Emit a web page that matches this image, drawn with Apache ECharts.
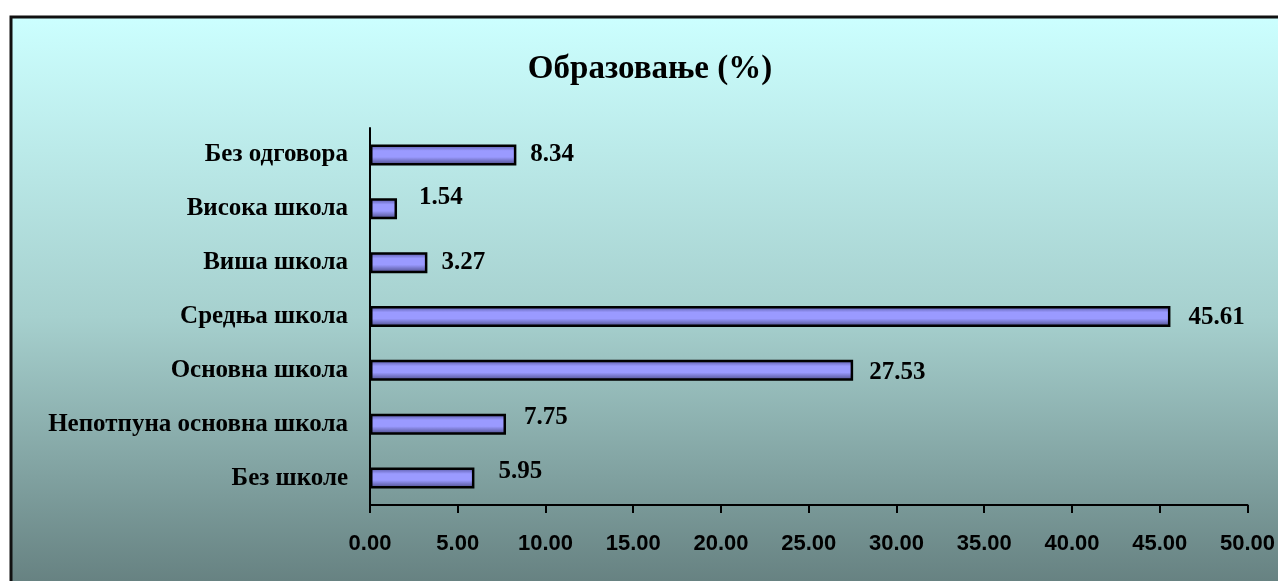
<!DOCTYPE html>
<html>
<head>
<meta charset="utf-8">
<script src="https://cdn.jsdelivr.net/npm/echarts@6/dist/echarts.min.js"></script>
<style>html,body{margin:0;padding:0;background:#fff}#c{width:1278px;height:581px}</style>
</head>
<body>
<div id="c"></div>
<script>
const titleText = 'Образовање (%)';
const categories = ['Без школе', 'Непотпуна основна школа', 'Основна школа', 'Средња школа', 'Виша школа', 'Висока школа', 'Без одговора'];
const values = [5.95, 7.75, 27.53, 45.61, 3.27, 1.54, 8.34];
const xTicks = { min: 0, max: 50, interval: 5 };
const labelOffsets = [[10, -7], [4, -7], [2, 2], [4, 1], [0, 0], [8, -11], [0, 0]];

const chart = echarts.init(document.getElementById('c'), null, { renderer: 'canvas' });
const barGradient = new echarts.graphic.LinearGradient(0, 0, 0, 1, [
  { offset: 0, color: '#50509a' },
  { offset: 0.3, color: '#9a9aff' },
  { offset: 0.6, color: '#9a9aff' },
  { offset: 1, color: '#45457f' }
]);
chart.setOption({
  animation: false,
  graphic: [{
    type: 'rect', z: -10, silent: true,
    shape: { x: 11, y: 17, width: 1300, height: 600 },
    style: {
      fill: new echarts.graphic.LinearGradient(0, 0, 0, 1, [
        { offset: 0, color: '#ccffff' },
        { offset: 0.5, color: '#a6d0ce' },
        { offset: 1, color: '#5e7777' }
      ]),
      stroke: '#111', lineWidth: 3
    }
  }],
  title: {
    text: titleText, left: 645, top: 48, textAlign: 'center',
    textStyle: { fontFamily: 'Liberation Serif', fontWeight: 'bold', fontSize: 33, color: '#000' }
  },
  grid: { left: 370, right: 26, top: 128, bottom: 76, containLabel: false },
  xAxis: {
    type: 'value', min: xTicks.min, max: xTicks.max, interval: xTicks.interval,
    axisLine: { show: true, lineStyle: { color: '#000', width: 2 } },
    axisTick: { show: true, inside: false, length: 8, lineStyle: { color: '#000', width: 2 } },
    splitLine: { show: false },
    axisLabel: {
      margin: 28, color: '#000', fontFamily: 'Liberation Sans', fontWeight: 'bold', fontSize: 22,
      formatter: v => v.toFixed(2)
    }
  },
  yAxis: {
    type: 'category', data: categories,
    axisLine: { show: true, lineStyle: { color: '#000', width: 2 } },
    axisTick: { show: false },
    axisLabel: { margin: 22, color: '#000', fontFamily: 'Liberation Serif', fontWeight: 'bold', fontSize: 25 }
  },
  series: [{
    type: 'bar',
    barWidth: 21,
    data: values.map((v, i) => ({
      value: v,
      label: { offset: labelOffsets[i] }
    })),
    itemStyle: { color: barGradient, borderColor: '#000', borderWidth: 2.5 },
    label: {
      show: true, position: 'right', distance: 14,
      color: '#000', fontFamily: 'Liberation Serif', fontWeight: 'bold', fontSize: 25,
      formatter: p => p.value.toFixed(2)
    }
  }]
});
</script>
</body>
</html>
